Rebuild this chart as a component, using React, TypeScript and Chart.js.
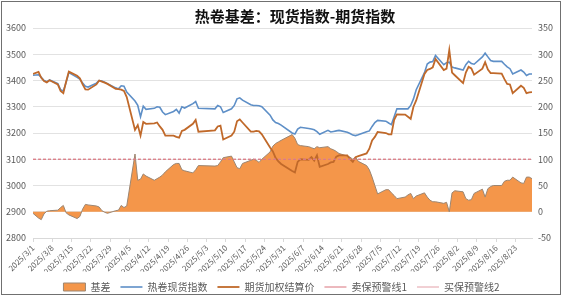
import React, { useEffect, useRef } from "react";
import { Chart, registerables } from "chart.js";
Chart.register(...registerables);

const TITLE = "热卷基差：现货指数-期货指数";

const dates = [
  "2025/3/1","2025/3/3","2025/3/4","2025/3/5","2025/3/6","2025/3/7","2025/3/10","2025/3/11","2025/3/12","2025/3/13",
  "2025/3/14","2025/3/17","2025/3/18","2025/3/19","2025/3/20","2025/3/21","2025/3/24","2025/3/25","2025/3/26","2025/3/27",
  "2025/3/28","2025/3/31","2025/4/1","2025/4/2","2025/4/3","2025/4/4","2025/4/7","2025/4/8","2025/4/9","2025/4/10",
  "2025/4/11","2025/4/14","2025/4/15","2025/4/16","2025/4/17","2025/4/18","2025/4/21","2025/4/22","2025/4/23","2025/4/24",
  "2025/4/25","2025/4/28","2025/4/29","2025/4/30","2025/5/6","2025/5/7","2025/5/8","2025/5/9","2025/5/12","2025/5/13",
  "2025/5/14","2025/5/15","2025/5/16","2025/5/19","2025/5/20","2025/5/21","2025/5/22","2025/5/23","2025/5/26","2025/5/27",
  "2025/5/28","2025/5/29","2025/5/30","2025/6/3","2025/6/4","2025/6/5","2025/6/6","2025/6/9","2025/6/10","2025/6/11",
  "2025/6/12","2025/6/13","2025/6/16","2025/6/17","2025/6/18","2025/6/19","2025/6/20","2025/6/23","2025/6/24","2025/6/25",
  "2025/6/26","2025/6/27","2025/6/30","2025/7/1","2025/7/2","2025/7/3","2025/7/4","2025/7/7","2025/7/8","2025/7/9",
  "2025/7/10","2025/7/11","2025/7/14","2025/7/15","2025/7/16","2025/7/17","2025/7/18","2025/7/21","2025/7/22","2025/7/23",
  "2025/7/24","2025/7/25","2025/7/28","2025/7/29","2025/7/30","2025/7/31","2025/8/1","2025/8/4","2025/8/5","2025/8/6",
  "2025/8/7","2025/8/8","2025/8/11","2025/8/12","2025/8/13","2025/8/14","2025/8/15","2025/8/18","2025/8/19","2025/8/20",
  "2025/8/21","2025/8/22","2025/8/25","2025/8/26","2025/8/27","2025/8/28","2025/8/29",
];

// 热卷现货指数 (left axis)
const spotIndex = [
  3420,3422,3412,3400,3395,3402,3388,3365,3360,3392,
  3430,3412,3405,3390,3378,3375,3390,3400,3398,3393,
  3388,3372,3368,3380,3378,3356,3322,3305,3262,3302,
  3290,3294,3300,3298,3280,3270,3282,3290,3276,3300,
  3295,3312,3320,3294,3292,3305,3300,3278,3292,3305,
  3330,3334,3325,3308,3305,3305,3304,3300,3268,3250,
  3240,3236,3230,3200,3196,3215,3222,3217,3215,3212,
  3205,3195,3210,3204,3206,3208,3210,3203,3198,3192,
  3190,3193,3205,3208,3225,3240,3248,3245,3238,3232,
  3262,3292,3292,3292,3305,3330,3365,3430,3463,3470,
  3472,3495,3460,3468,3470,3451,3448,3440,3460,3473,
  3465,3462,3490,3504,3490,3476,3473,3473,3462,3452,
  3445,3425,3440,3432,3419,3425,3425,
];

// 期货加权结算价 (left axis)
const futuresPrice = [
  3425,3433,3410,3398,3393,3401,3385,3360,3352,3395,
  3434,3418,3408,3385,3366,3365,3385,3400,3396,3392,
  3387,3368,3367,3365,3360,3337,3212,3230,3190,3242,
  3235,3237,3240,3225,3212,3190,3190,3185,3182,3208,
  3212,3235,3250,3205,3210,3225,3228,3175,3190,3205,
  3245,3252,3240,3205,3205,3208,3206,3195,3145,3130,
  3105,3092,3082,3055,3050,3090,3100,3098,3108,3095,
  3115,3071,3082,3088,3090,3110,3115,3115,3100,3090,
  3108,3112,3122,3140,3172,3185,3204,3200,3195,3195,
  3250,3271,3270,3262,3254,3300,3324,3425,3440,3444,
  3450,3482,3440,3445,3516,3430,3420,3390,3430,3452,
  3446,3422,3445,3470,3442,3428,3428,3426,3405,3387,
  3385,3352,3380,3372,3352,3355,3356,
];

// 基差 (right axis)
const basis = [
  -3,-12,-15,-4,1,2,3,8,12,-2,
  -6,-13,-9,5,14,13,11,9,2,-1,
  -3,2,3,12,8,11,110,60,62,72,
  68,60,63,66,70,76,90,92,92,80,
  78,74,80,88,87,88,95,103,106,95,
  84,82,92,98,100,98,94,100,114,125,
  130,133,136,147,140,128,126,124,122,120,
  124,122,124,120,118,115,111,106,104,100,
  104,96,88,80,66,50,34,42,42,36,
  31,25,28,32,35,25,30,36,28,22,
  19,19,16,18,0,36,40,38,25,22,
  23,35,43,28,44,48,50,50,58,60,
  60,66,55,54,66,66,63,
];

const sellWarnLevel = 100; // 卖保预警线1 (right axis)
const buyWarnLevel = 100;  // 买保预警线2 (right axis)

const leftTicks = { min: 2800, max: 3600, step: 100 };
const rightTicks = { min: -50, max: 350, step: 50 };

const START = Date.UTC(2025, 2, 1);
const DAY = 86400000;
const dayOf = (s: string) => {
  const [y, m, d] = s.split("/").map(Number);
  return Math.round((Date.UTC(y, m - 1, d) - START) / DAY);
};
const fmtDay = (v: number) => {
  const dt = new Date(START + v * DAY);
  return `${dt.getUTCFullYear()}/${dt.getUTCMonth() + 1}/${dt.getUTCDate()}`;
};

const FONT = "'Noto Sans CJK SC', 'Noto Sans', sans-serif";

export default function App() {
  const ref = useRef<HTMLCanvasElement | null>(null);

  useEffect(() => {
    document.body.style.margin = "0";
    const canvas = ref.current;
    if (!canvas) return;
    const xs = dates.map(dayOf);
    const lastDay = xs[xs.length - 1];
    const pts = (arr: number[]) => arr.map((v, i) => ({ x: xs[i], y: v }));
    const flat = (v: number) => xs.map((x) => ({ x, y: v }));

    const framePlugin = {
      id: "frameTitle",
      beforeDraw(chart: any) {
        const { ctx, width, height } = chart;
        ctx.save();
        ctx.fillStyle = "#ffffff";
        ctx.fillRect(0, 0, width, height);
        ctx.restore();
      },
      afterDraw(chart: any) {
        const { ctx } = chart;
        ctx.save();
        ctx.strokeStyle = "#707070";
        ctx.lineWidth = 1;
        ctx.strokeRect(1.5, 1.5, 559, 293);
        ctx.fillStyle = "#111111";
        ctx.font = `bold 15px ${FONT}`;
        ctx.textAlign = "center";
        ctx.textBaseline = "middle";
        ctx.fillText(TITLE, 295, 16);
        ctx.restore();
      },
    };

    const xTickValues: number[] = [];
    for (let v = 0; v <= lastDay; v += 7) xTickValues.push(v);

    const chart = new Chart(canvas, {
      type: "line",
      data: {
        datasets: [
          {
            label: "基差",
            data: pts(basis),
            yAxisID: "y1",
            fill: "origin",
            backgroundColor: "#F4964A",
            borderColor: "#9c8672",
            borderWidth: 1,
            pointRadius: 0,
            pointStyle: "rect",
            tension: 0,
            order: 5,
          },
          {
            label: "热卷现货指数",
            data: pts(spotIndex),
            yAxisID: "y",
            borderColor: "#5E8FC7",
            backgroundColor: "#5E8FC7",
            borderWidth: 1.6,
            pointRadius: 0,
            pointStyle: "line",
            fill: false,
            order: 3,
          },
          {
            label: "期货加权结算价",
            data: pts(futuresPrice),
            yAxisID: "y",
            borderColor: "#C0692A",
            backgroundColor: "#C0692A",
            borderWidth: 1.8,
            pointRadius: 0,
            pointStyle: "line",
            fill: false,
            order: 2,
          },
          {
            label: "卖保预警线1",
            data: flat(sellWarnLevel),
            yAxisID: "y1",
            borderColor: "#D9727C",
            backgroundColor: "#D9727C",
            borderWidth: 1,
            borderDash: [3, 2],
            pointRadius: 0,
            pointStyle: "line",
            fill: false,
            order: 1,
          },
          {
            label: "买保预警线2",
            data: flat(buyWarnLevel),
            yAxisID: "y1",
            borderColor: "#E3A0A8",
            backgroundColor: "#E3A0A8",
            borderWidth: 1,
            borderDash: [3, 2],
            pointRadius: 0,
            pointStyle: "line",
            fill: false,
            order: 1,
          },
        ],
      },
      options: {
        animation: false,
        responsive: false,
        maintainAspectRatio: false,
        layout: { padding: { top: 28, left: 0, right: 0, bottom: -6 } },
        plugins: {
          title: { display: false },
          tooltip: { enabled: false },
          legend: {
            position: "bottom",
            labels: {
              usePointStyle: true,
              pointStyleWidth: 22,
              boxHeight: 8,
              padding: 10,
              color: "#595959",
              font: { size: 10, family: FONT },
              sort: (a: any, b: any) => a.datasetIndex - b.datasetIndex,
            },
          },
        },
        scales: {
          x: {
            type: "linear",
            min: 0,
            max: lastDay,
            afterBuildTicks: (s: any) => {
              s.ticks = xTickValues.map((v) => ({ value: v }));
            },
            afterFit: (s: any) => {
              s.height = 34;
            },
            ticks: {
              autoSkip: false,
              minRotation: 45,
              maxRotation: 45,
              padding: 1,
              color: "#595959",
              font: { size: 8, family: FONT },
              callback: (v: any) => fmtDay(Number(v)),
            },
            grid: { drawOnChartArea: false, drawTicks: true, tickLength: 4, color: "#d9d9d9" },
            border: { display: true, color: "#d9d9d9" },
          },
          y: {
            position: "left",
            min: leftTicks.min,
            max: leftTicks.max,
            afterFit: (s: any) => {
              s.width = 33;
            },
            ticks: {
              stepSize: leftTicks.step,
              padding: 7,
              color: "#595959",
              font: { size: 9, family: FONT },
              callback: (v: any) => String(v),
            },
            grid: { color: "#e2e2e2", drawTicks: false },
            border: { display: false },
          },
          y1: {
            position: "right",
            min: rightTicks.min,
            max: rightTicks.max,
            afterFit: (s: any) => {
              s.width = 31;
            },
            ticks: {
              stepSize: rightTicks.step,
              padding: 6,
              color: "#595959",
              font: { size: 9, family: FONT },
              callback: (v: any) => String(v),
            },
            grid: { display: false, drawTicks: false },
            border: { display: false },
          },
        },
      },
      plugins: [framePlugin],
    } as any);

    return () => chart.destroy();
  }, []);

  return (
    <div style={{ width: 563, height: 296 }}>
      <canvas ref={ref} width={563} height={296} style={{ display: "block", width: 563, height: 296 }} />
    </div>
  );
}
